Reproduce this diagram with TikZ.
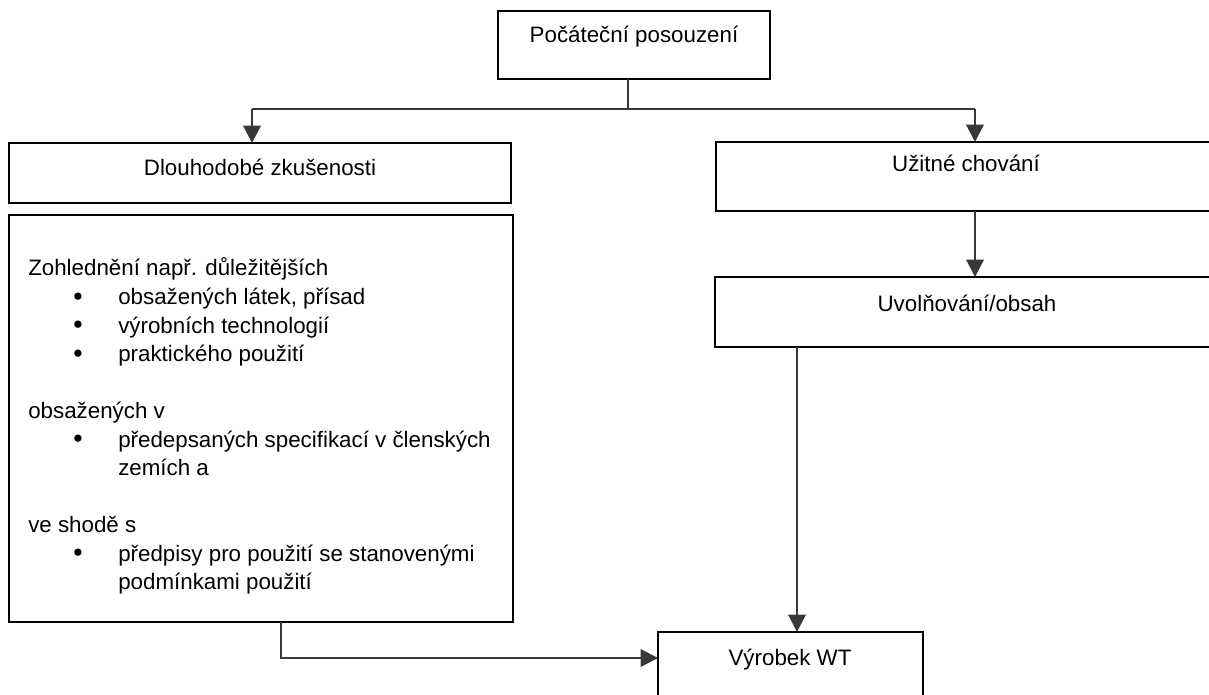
\documentclass[tikz,border=0pt]{standalone}
\usepackage{fontspec}
\setmainfont{Liberation Sans}
\usetikzlibrary{arrows.meta}
\begin{document}
\begin{tikzpicture}[x=0.75pt,y=-0.75pt,
  box/.style={draw=black, line width=1.6pt, rectangle, anchor=north west, inner sep=0pt, outer sep=0pt},
  lbl/.style={font=\fontsize{16.75}{20}\selectfont, inner sep=0pt, anchor=center},
  txt/.style={font=\fontsize{16.75}{20}\selectfont, inner sep=0pt, anchor=base west},
  bul/.style={font=\fontsize{20}{20}\selectfont, inner sep=0pt, anchor=base},
  conn/.style={draw=black!78, line width=1.7pt},
  arr/.style={conn, -{Triangle[length=13pt,width=13pt]}}]
\clip (0,0) rectangle (1209,695);
\fill[white] (0,0) rectangle (1209,695);
% boxes
\node[box, minimum width=272*0.75pt, minimum height=68*0.75pt] (top) at (498,11) {};
\node[lbl] (toptxt) at (634,37) {Počáteční posouzení};
\node[box, minimum width=502*0.75pt, minimum height=60*0.75pt] (dl) at (9,143) {};
\node[lbl] (dltxt) at (260,167) {Dlouhodobé zkušenosti};
\node[box, minimum width=504*0.75pt, minimum height=407*0.75pt] (big) at (9,215) {};
\node[box, minimum width=500*0.75pt, minimum height=69*0.75pt] (uz) at (716,142) {};
\node[lbl] (uztxt) at (966,163) {Užitné chování};
\node[box, minimum width=503*0.75pt, minimum height=70*0.75pt] (uv) at (715,277) {};
\node[lbl] (uvtxt) at (967,303) {Uvolňování/obsah};
\node[box, minimum width=265*0.75pt, minimum height=100*0.75pt] (vy) at (658,632) {};
\node[lbl] (vytxt) at (790,660) {Výrobek WT};
% text in large box
\node[txt] (t1) at (28,276) {Zohlednění např. důležitějších};
\node[bul] (b1) at (78,305) {•};
\node[txt] (t2) at (118,304.5) {obsažených látek, přísad};
\node[bul] (b2) at (78,333.5) {•};
\node[txt] (t3) at (118,333) {výrobních technologií};
\node[bul] (b3) at (78,362) {•};
\node[txt] (t4) at (118,361.5) {praktického použití};
\node[txt] (t5) at (28,418.5) {obsažených v};
\node[bul] (b4) at (78,447.5) {•};
\node[txt] (t6) at (118,447) {předepsaných specifikací v členských};
\node[txt] (t7) at (118,475.5) {zemích a};
\node[txt] (t8) at (28,532.5) {ve shodě s};
\node[bul] (b5) at (78,561.5) {•};
\node[txt] (t9) at (118,561) {předpisy pro použití se stanovenými};
\node[txt] (t10) at (118,589.5) {podmínkami použití};
% connectors
\coordinate (split) at (628,109);
\coordinate (jl) at (252,109);
\coordinate (jr) at (975,109);
\coordinate (vx) at (797,400);
\coordinate (bx) at (281,658);
\draw[conn] (top.south -| split) -- (split);
\draw[conn] (jl) -- (jr);
\draw[arr] (jl) -- (jl |- dl.north);
\draw[arr] (jr) -- (jr |- uz.north);
\draw[arr] (jr |- uz.south) -- (jr |- uv.north);
\draw[arr] (vx |- uv.south) -- (vx |- vy.north);
\draw[arr] (bx |- big.south) -- (bx) -- (bx -| vy.west);
\end{tikzpicture}
\end{document}
